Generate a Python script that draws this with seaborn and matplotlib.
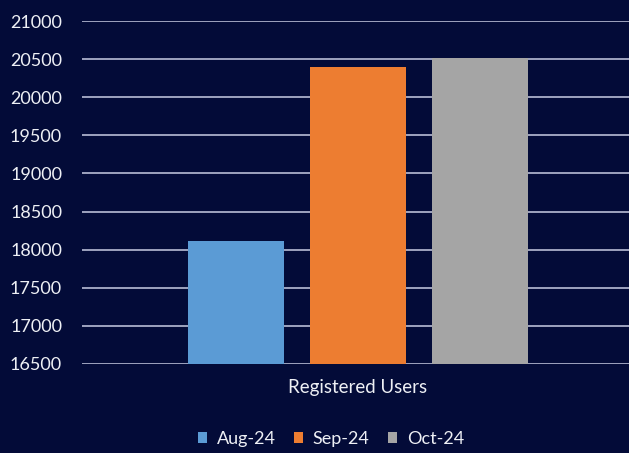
import pandas as pd
import matplotlib
matplotlib.use('Agg')
import matplotlib.pyplot as plt
import seaborn as sns

# values
months = ['Aug-24', 'Sep-24', 'Oct-24']
users = [18115, 20400, 20510]
metric = ['Registered Users'] * 3
colors = ['#5b9bd5', '#ed7d31', '#a5a5a5']
y_ticks = list(range(16500, 21001, 500))

df = pd.DataFrame({'metric': metric, 'month': months, 'users': users})

bg = '#030b38'
txt = '#eef0f5'

sns.set_style('white')
plt.rcParams['font.family'] = ['Lato', 'DejaVu Sans']

fig = plt.figure(figsize=(6.29, 4.53), dpi=100, facecolor=bg)
ax = fig.add_axes([0.1304, 0.1965, 0.8696, 0.7571])
ax.set_facecolor(bg)

sns.barplot(data=df, x='metric', y='users', hue='month', palette=colors,
            saturation=1, width=0.8, gap=0.22, linewidth=0, ax=ax)

ax.set_ylim(16500, 21000)
ax.set_xlim(-0.603, 0.592)
ax.set_yticks(y_ticks)
ax.set_axisbelow(True)
ax.grid(axis='y', color='#c9cde3', linewidth=1.1)
ax.grid(axis='x', visible=False)
for s in ax.spines.values():
    s.set_visible(False)

ax.tick_params(axis='y', length=0, pad=14.4, labelsize=13, labelcolor=txt)
ax.tick_params(axis='x', length=0, pad=11, labelsize=13.5, labelcolor=txt)
ax.set_xlabel('')
ax.set_ylabel('')

handles, labels = ax.get_legend_handles_labels()
ax.get_legend().remove()
leg = fig.legend(handles, labels, loc='center', bbox_to_anchor=(331 / 629, 1 - 439 / 453),
                 ncol=3, frameon=False, fontsize=13, handlelength=0.5, handleheight=0.5,
                 handletextpad=0.55, columnspacing=1.0, borderaxespad=0)
for t in leg.get_texts():
    t.set_color(txt)
for h in leg.legend_handles:
    h.set_linewidth(0)

fig.savefig('out.png', dpi=100, facecolor=bg)
